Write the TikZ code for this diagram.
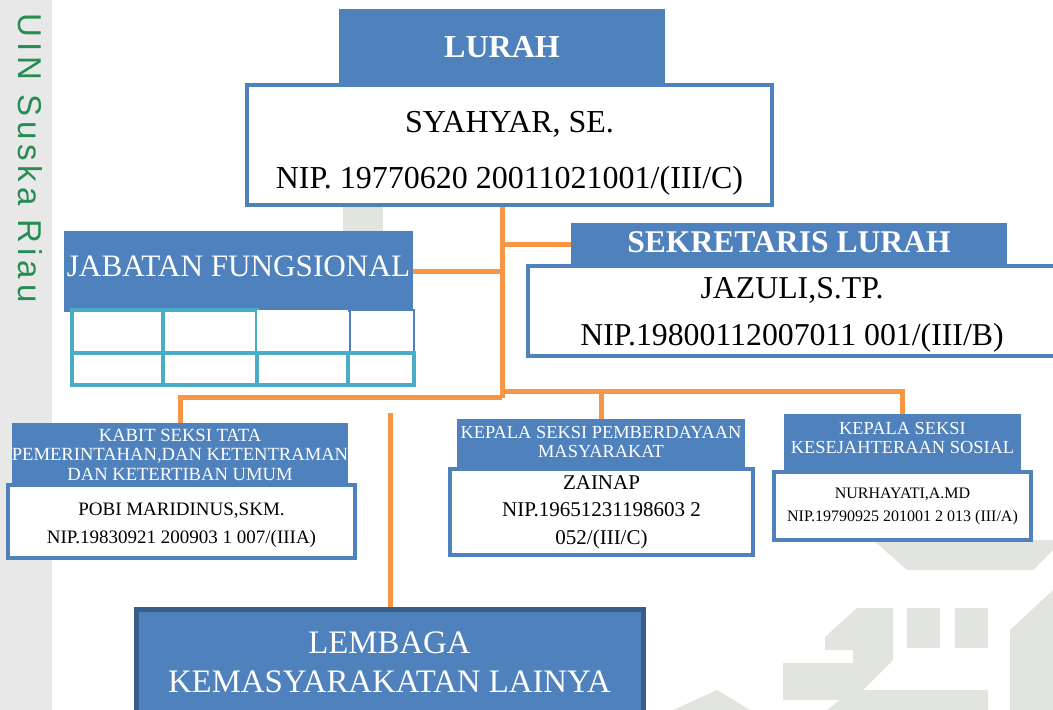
\documentclass[tikz,border=0pt]{standalone}
\usepackage{fontspec}
\setmainfont{Liberation Serif}
\newfontfamily\stripfont[LetterSpace=15]{Liberation Sans}
\usepackage{tikz}
\usetikzlibrary{backgrounds}
\definecolor{hdblue}{RGB}{79,129,189}
\definecolor{lineorange}{RGB}{247,150,70}
\definecolor{cellteal}{RGB}{75,172,198}
\definecolor{stripgrey}{RGB}{232,232,232}
\definecolor{markgrey}{RGB}{226,228,224}
\definecolor{uingreen}{RGB}{38,140,82}
\definecolor{lembagaedge}{RGB}{56,93,138}
\newcommand{\padtop}[1]{\rule{0pt}{#1}}
\newcommand{\padbot}[1]{\rule[-#1]{0pt}{#1}}

\tikzset{
  head/.style={fill=hdblue, text=white, inner sep=0pt, align=center},
  namebox/.style={draw=hdblue, line width=2pt, fill=white, inner sep=0pt, align=center},
  link/.style={draw=lineorange, line width=2.5pt},
  cell/.style={draw=cellteal, line width=2pt, fill=white}
}

\begin{document}
\begin{tikzpicture}[x=0.5pt, y=-0.5pt]
  \useasboundingbox (0,0) rectangle (1053,710);
  \fill[stripgrey] (0,0) rectangle (52,710);
  \node[rotate=-90, text=uingreen, font=\stripfont\fontsize{16.5}{16.5}\selectfont] (uin) at (30,158) {UIN Suska Riau};

  % lurah
  \node[head, minimum width=163pt, minimum height=38.5pt, font=\bfseries\fontsize{16}{16}\selectfont] (lurahHead) at (502,47.5) {LURAH};
  \node[namebox, minimum width=262.5pt, minimum height=60pt, font=\fontsize{16}{28}\selectfont] (lurahBox) at (509.5,145)
    {\padtop{19pt}SYAHYAR, SE.\\NIP. 19770620 20011021001/(III/C)};

  % jabatan fungsional
  \node[head, minimum width=174.5pt, minimum height=40.5pt, font=\fontsize{15.6}{15.6}\selectfont] (jabatanHead) at (238.5,271.5) {JABATAN FUNGSIONAL\padbot{5.5pt}};
  \foreach \xa/\xb in {72/163, 163/257}
    \draw[cell] (\xa,310) rectangle (\xb,353);
  \fill[white] (257,310) rectangle (348,353);
  \draw[hdblue, line width=1pt, fill=white] (350,310) rectangle (414,353);
  \foreach \xa/\xb in {72/163, 163/257, 257/348, 348/414}
    \draw[cell] (\xa,353) rectangle (\xb,385);

  % sekretaris
  \node[head, minimum width=218pt, minimum height=21.5pt, font=\bfseries\fontsize{15.8}{15.8}\selectfont] (sekHead) at (789,244.5) {SEKRETARIS LURAH\padbot{2pt}};
  \node[namebox, minimum width=264pt, minimum height=45pt, font=\fontsize{15.9}{23.5}\selectfont] (sekBox) at (792,311)
    {\padtop{14pt}JAZULI,S.TP.\\NIP.19800112007011 001/(III/B)};

  % seksi
  \node[head, minimum width=168pt, minimum height=31.5pt, font=\fontsize{9.3}{9.75}\selectfont] (kabitHead) at (180,454.5)
    {KABIT SEKSI TATA\\PEMERINTAHAN,DAN KETENTRAMAN\\DAN KETERTIBAN UMUM};
  \node[namebox, minimum width=173.5pt, minimum height=36.5pt, font=\fontsize{9.5}{14}\selectfont] (kabitBox) at (181.5,521.5)
    {\padtop{10.5pt}POBI MARIDINUS,SKM.\\NIP.19830921 200903 1 007/(IIIA)};

  \node[head, minimum width=144pt, minimum height=25pt, font=\fontsize{9.2}{9.5}\selectfont] (pemHead) at (601,444)
    {KEPALA SEKSI PEMBERDAYAAN\\MASYARAKAT\padbot{2.5pt}};
  \node[namebox, minimum width=151.5pt, minimum height=43pt, font=\fontsize{10.5}{13.75}\selectfont] (pemBox) at (601.5,512)
    {ZAINAP\\NIP.19651231198603 2\\052/(III/C)};

  \node[head, minimum width=118.5pt, minimum height=28.5pt, font=\fontsize{9.2}{9.5}\selectfont] (kesHead) at (902.5,442.5)
    {KEPALA SEKSI\\KESEJAHTERAAN SOSIAL\padbot{5pt}};
  \node[namebox, minimum width=128.5pt, minimum height=34pt, font=\fontsize{8}{11.5}\selectfont] (kesBox) at (902.5,506)
    {NURHAYATI,A.MD\\NIP.19790925 201001 2 013 (III/A)};

  % lembaga
  \node[head, draw=lembagaedge, line width=2.5pt, minimum width=253.5pt, minimum height=53.5pt, font=\fontsize{16.4}{19.5}\selectfont] (lembaga) at (389.5,662.5)
    {LEMBAGA\\KEMASYARAKATAN LAINYA};

  \begin{scope}[on background layer]
    % watermark
    \fill[markgrey] (343,205) rectangle (383,231);
    \fill[markgrey] (873,540) -- (1053,540) -- (1053,550) -- (1033,570) -- (907,570) -- cycle;
    \fill[markgrey] (1010,630) -- (1053,590) -- (1053,710) -- (1010,710) -- cycle;
    \fill[markgrey] (907,608) rectangle (940,648);
    \fill[markgrey] (955,608) rectangle (988,648);
    \fill[markgrey] (857,608) -- (893,608) -- (893,660) -- (853,700) -- (783,700) -- (783,663) -- (853,663) -- (853,650) -- (825,650) -- (825,637) -- cycle;
    \fill[markgrey] (827,710) -- (853,690) -- (988,690) -- (988,710) -- cycle;
    \fill[markgrey] (673,710) -- (717,690) -- (750,710) -- cycle;

    % garis
    \coordinate (fork) at (502,398);
    \coordinate (forkR) at (502,392);
    \coordinate (lembagaFeed) at (390,413);
    \draw[link] (lurahBox.south -| fork) -- (fork);
    \draw[link] (jabatanHead.east) -- (jabatanHead.east -| fork);
    \draw[link] (sekHead.west) -- (sekHead.west -| fork);
    \draw[link] (fork) -- (fork -| kabitHead.north) -- (kabitHead.north);
    \draw[link] (forkR) -- (forkR -| kesHead.north) -- (kesHead.north);
    \draw[link] (forkR -| pemHead.north) -- (pemHead.north);
    \draw[link] (lembagaFeed) -- (lembagaFeed |- lembaga.north);
  \end{scope}
\end{tikzpicture}
\end{document}
